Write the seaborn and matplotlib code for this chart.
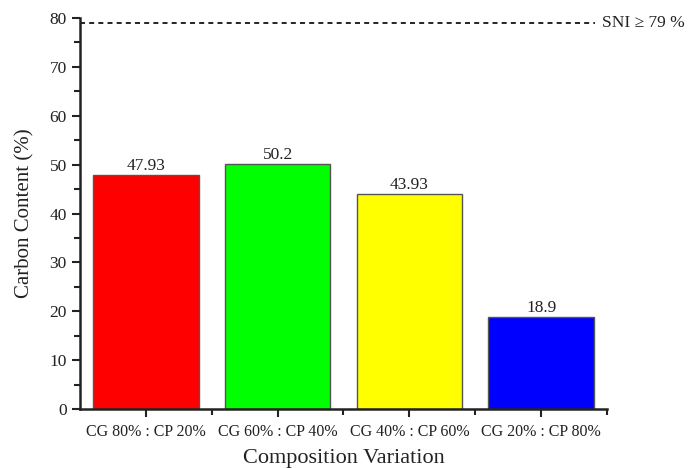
import matplotlib
matplotlib.use("Agg")
import matplotlib.pyplot as plt
from matplotlib.ticker import MultipleLocator, FixedLocator
import seaborn as sns
import pandas as pd

categories = ["CG 80% : CP 20%", "CG 60% : CP 40%", "CG 40% : CP 60%", "CG 20% : CP 80%"]
carbon = [47.93, 50.2, 43.93, 18.9]
value_labels = ["47.93", "50.2", "43.93", "18.9"]
bar_colors = ["#ff0000", "#00ff00", "#ffff00", "#0000ff"]
sni_limit = 79

sns.set_theme(style="ticks")
plt.rcParams["font.family"] = ["Liberation Serif", "DejaVu Serif"]

df = pd.DataFrame({"Composition": categories, "Carbon": carbon})

fig = plt.figure(figsize=(6.89, 4.68), dpi=100)
ax = fig.add_axes([0.116, 0.126, 0.765, 0.8355])

sns.barplot(data=df, x="Composition", y="Carbon", hue="Composition",
            palette=bar_colors, saturation=1, width=0.8, edgecolor="#555555",
            linewidth=1.0, legend=False, ax=ax)

for i, (v, lab) in enumerate(zip(carbon, value_labels)):
    ax.text(i, v + 0.2, lab, ha="center", va="bottom", fontsize=12.5, color="#222222")

ax.set_xlim(-0.5, 3.5)
ax.set_ylim(0, 80)
ax.yaxis.set_major_locator(MultipleLocator(10))
ax.yaxis.set_minor_locator(MultipleLocator(5))
ax.xaxis.set_minor_locator(FixedLocator([0.5, 1.5, 2.5, 3.5]))

ax.axhline(sni_limit, xmin=0, xmax=0.977, color="black", linestyle=(0, (3, 2.5)), linewidth=1.2)
ax.text(3.46, sni_limit, "SNI \u2265 79 %", ha="left", va="center", fontsize=12.5,
        color="#222222", clip_on=False)

for side in ["top", "right"]:
    ax.spines[side].set_visible(False)
for side in ["left", "bottom"]:
    ax.spines[side].set_linewidth(1.8)
    ax.spines[side].set_color("#222222")

ax.tick_params(axis="both", which="major", direction="out", length=6, width=1.5,
               colors="#222222")
ax.tick_params(axis="y", which="major", labelsize=12.5)
ax.tick_params(axis="x", which="major", labelsize=11.5, pad=5)
ax.tick_params(axis="both", which="minor", direction="out", length=4, width=1.5,
               colors="#222222")

ax.set_xlabel("Composition Variation", fontsize=16, color="#222222", labelpad=6)
ax.set_ylabel("Carbon Content (%)", fontsize=15, color="#222222", labelpad=11)

fig.savefig("out.png", dpi=100)
